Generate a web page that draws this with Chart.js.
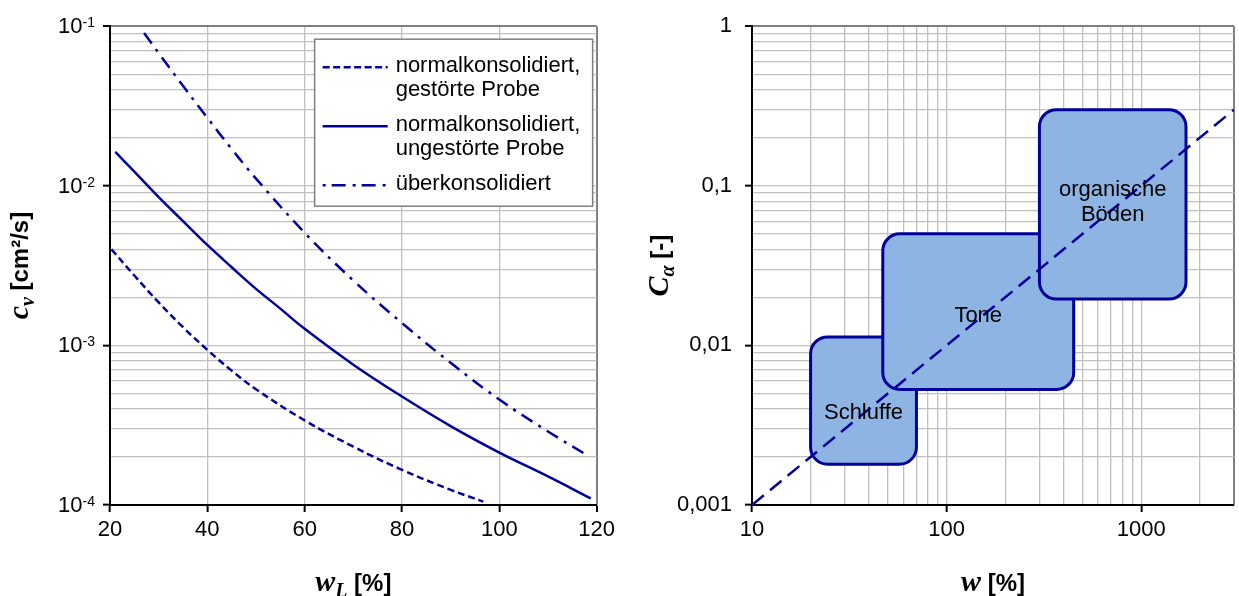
<!DOCTYPE html>
<html>
<head>
<meta charset="utf-8">
<script src="https://cdn.jsdelivr.net/npm/chart.js@4"></script>
<style>
  html, body { margin: 0; padding: 0; background: #fff; }
  body { width: 1239px; height: 596px; overflow: hidden; position: relative; }
  #cvChart { position: absolute; left: 0; top: 0; }
  #caChart { position: absolute; left: 620px; top: 0; }
</style>
</head>
<body>
<canvas id="cvChart" width="620" height="596"></canvas>
<canvas id="caChart" width="619" height="596"></canvas>
<script>
// left chart: c_v over liquid limit w_L
const wlGestoert = [20.3, 25, 30, 35, 40, 45, 50, 60, 70, 80, 90, 96.7];
const cvGestoert = [4.0e-3, 2.74e-3, 1.86e-3, 1.30e-3, 9.38e-4, 6.95e-4, 5.31e-4, 3.39e-4, 2.32e-4, 1.66e-4, 1.245e-4, 1.05e-4];
const wlUngestoert = [21.1, 25, 30, 35, 40, 45, 50, 55, 60, 70, 80, 90, 100, 110, 118.8];
const cvUngestoert = [1.63e-2, 1.225e-2, 8.49e-3, 6.01e-3, 4.26e-3, 3.09e-3, 2.26e-3, 1.70e-3, 1.27e-3, 7.57e-4, 4.78e-4, 3.12e-4, 2.13e-4, 1.51e-4, 1.1e-4];
const wlUeber = [27, 30, 35, 40, 45, 50, 60, 70, 80, 90, 100, 110, 117.7];
const cvUeber = [9.06e-2, 6.78e-2, 4.23e-2, 2.67e-2, 1.70e-2, 1.11e-2, 5.08e-3, 2.55e-3, 1.38e-3, 7.78e-4, 4.58e-4, 2.89e-4, 2.08e-4];
const seriesLabels = ['normalkonsolidiert,\ngestörte Probe', 'normalkonsolidiert,\nungestörte Probe', 'überkonsolidiert'];
const wlTicks = [20, 40, 60, 80, 100, 120];
const cvMajor = [1e-4, 1e-3, 1e-2, 1e-1];
const cvExponents = ['-4', '-3', '-2', '-1'];

// right chart: C_alpha over water content w
const wMajor = [10, 100, 1000];
const wTickLabels = ['10', '100', '1000'];
const caMajor = [0.001, 0.01, 0.1, 1];
const caTickLabels = ['0,001', '0,01', '0,1', '1'];
const soilNames = ['Schluffe', 'Tone', 'organische\nBöden'];
const soilWMin = [20, 47, 300];
const soilWMax = [70, 450, 1700];
const soilCMin = [0.0018, 0.0053, 0.0195];
const soilCMax = [0.0113, 0.05, 0.3];
const trendW = [10, 3000];
const trendC = [0.001, 0.3];

const BLUE = '#00009C';
const BOX_FILL = '#8EB4E3';
const GRID = '#C0C0C0';
const FRAME = '#808080';
const SANS = '"Liberation Sans", Arial, sans-serif';
const SERIF = '"Liberation Serif", "Times New Roman", serif';

Chart.defaults.font.family = SANS;
Chart.defaults.color = '#000';

function near(a, b) { return Math.abs(Math.log10(a) - Math.log10(b)) < 1e-6; }

// 1..9 x 10^n grid positions between min and max
function logGrid(min, max) {
  const out = [];
  for (let e = Math.floor(Math.log10(min)); Math.pow(10, e) <= max * 1.000001; e++) {
    for (let k = 1; k <= 9; k++) {
      const v = Number((k * Math.pow(10, e)).toPrecision(6));
      if (v >= min * 0.999999 && v <= max * 1.000001) out.push(v);
    }
  }
  return out;
}

function points(xs, ys) { return xs.map((x, i) => ({ x: x, y: ys[i] })); }

function axis(type, min, max, gridValues, majorValues, labels, padding, fit) {
  const isMajor = v => majorValues.some(m => near(v, m));
  return {
    type: type, min: min, max: max,
    afterBuildTicks: a => { a.ticks = gridValues.map(v => ({ value: v })); },
    afterFit: fit,
    ticks: {
      autoSkip: false, maxRotation: 0, padding: padding,
      font: { size: 22 },
      callback: v => {
        const i = majorValues.findIndex(m => near(v, m));
        return i < 0 ? '' : labels[i];
      }
    },
    grid: {
      color: c => !c.tick ? GRID : near(c.tick.value, max) ? FRAME : near(c.tick.value, min) ? 'rgba(0,0,0,0)' : GRID,
      lineWidth: c => c.tick && near(c.tick.value, max) ? 2 : 1.3,
      tickLength: 7,
      tickWidth: 2,
      tickColor: c => c.tick && isMajor(c.tick.value) ? '#000' : 'rgba(0,0,0,0)'
    },
    border: { color: '#000', width: 2 }
  };
}

// text made of runs with their own fonts (italic symbols, subscripts)
function drawRuns(ctx, runs, cx, base, rotated) {
  ctx.save();
  ctx.fillStyle = '#000';
  ctx.textBaseline = 'alphabetic';
  ctx.textAlign = 'left';
  let total = 0;
  runs.forEach(r => { ctx.font = r.font; r.w = ctx.measureText(r.text).width; total += r.w; });
  if (rotated) {
    ctx.translate(base, cx);
    ctx.rotate(-Math.PI / 2);
  } else {
    ctx.translate(cx, base);
  }
  let x = -total / 2;
  runs.forEach(r => {
    ctx.font = r.font;
    ctx.fillText(r.text, x, r.dy || 0);
    x += r.w;
  });
  ctx.restore();
}

function roundRect(ctx, x, y, w, h, r) {
  ctx.beginPath();
  ctx.moveTo(x + r, y);
  ctx.arcTo(x + w, y, x + w, y + h, r);
  ctx.arcTo(x + w, y + h, x, y + h, r);
  ctx.arcTo(x, y + h, x, y, r);
  ctx.arcTo(x, y, x + w, y, r);
  ctx.closePath();
}

const cvDecor = {
  id: 'cvDecor',
  afterDraw(chart) {
    const ctx = chart.ctx;
    const a = chart.chartArea;
    const ys = chart.scales.y;

    // y tick labels as powers of ten
    ctx.save();
    ctx.fillStyle = '#000';
    const right = ys.right - 15;
    cvMajor.forEach((v, i) => {
      const py = ys.getPixelForValue(v);
      ctx.font = '14px ' + SANS;
      const ew = ctx.measureText(cvExponents[i]).width;
      ctx.textAlign = 'left';
      ctx.fillText(cvExponents[i], right - ew, py + 1);
      ctx.font = '22px ' + SANS;
      ctx.textAlign = 'right';
      ctx.fillText('10', right - ew, py + 7);
    });
    ctx.restore();

    // legend box
    const box = { left: a.right - 282, top: a.top + 13, width: 278, height: 167 };
    const rows = [27, 86, 145];
    ctx.save();
    ctx.fillStyle = '#fff';
    ctx.fillRect(box.left, box.top, box.width, box.height);
    ctx.strokeStyle = FRAME;
    ctx.lineWidth = 1.5;
    ctx.strokeRect(box.left, box.top, box.width, box.height);
    chart.data.datasets.forEach((ds, i) => {
      const y0 = box.top + rows[i];
      ctx.strokeStyle = ds.borderColor;
      ctx.lineWidth = 2.5;
      ctx.setLineDash(ds.legendDash || []);
      ctx.beginPath();
      ctx.moveTo(box.left + 8, y0 + 1);
      ctx.lineTo(box.left + 73, y0 + 1);
      ctx.stroke();
      ctx.setLineDash([]);
      ctx.fillStyle = '#000';
      ctx.font = '22px ' + SANS;
      ctx.textAlign = 'left';
      ctx.textBaseline = 'middle';
      ds.label.split('\n').forEach((line, k) => ctx.fillText(line, box.left + 81, y0 + k * 24));
    });
    ctx.restore();

    // axis titles
    drawRuns(ctx, [
      { text: 'c', font: 'bold italic 30px ' + SERIF },
      { text: 'v', font: 'bold italic 20px ' + SERIF, dy: 6 },
      { text: ' [cm²/s]', font: 'bold 24px ' + SANS }
    ], (a.top + a.bottom) / 2, 28, true);
    drawRuns(ctx, [
      { text: 'w', font: 'bold italic 30px ' + SERIF },
      { text: 'L', font: 'bold italic 20px ' + SERIF, dy: 6 },
      { text: ' [%]', font: 'bold 24px ' + SANS }
    ], (a.left + a.right) / 2, 591, false);
  }
};

const soilDecor = {
  id: 'soilDecor',
  beforeDatasetsDraw(chart) {
    const ctx = chart.ctx;
    const xs = chart.scales.x, ys = chart.scales.y;
    ctx.save();
    soilNames.forEach((n, i) => {
      const l = xs.getPixelForValue(soilWMin[i]);
      const r = xs.getPixelForValue(soilWMax[i]);
      const t = ys.getPixelForValue(soilCMax[i]);
      const b = ys.getPixelForValue(soilCMin[i]);
      roundRect(ctx, l, t, r - l, b - t, 17);
      ctx.fillStyle = BOX_FILL;
      ctx.fill();
      ctx.strokeStyle = BLUE;
      ctx.lineWidth = 3;
      ctx.stroke();
    });
    ctx.restore();
  },
  afterDatasetsDraw(chart) {
    const ctx = chart.ctx;
    const xs = chart.scales.x, ys = chart.scales.y;
    const dy = [12, 4, -2];
    ctx.save();
    ctx.fillStyle = '#000';
    ctx.font = '22px ' + SANS;
    ctx.textAlign = 'center';
    ctx.textBaseline = 'middle';
    soilNames.forEach((n, i) => {
      const cx = (xs.getPixelForValue(soilWMin[i]) + xs.getPixelForValue(soilWMax[i])) / 2;
      const cy = (ys.getPixelForValue(soilCMin[i]) + ys.getPixelForValue(soilCMax[i])) / 2 + dy[i];
      const lines = n.split('\n');
      lines.forEach((line, k) => ctx.fillText(line, cx, cy + (k - (lines.length - 1) / 2) * 25));
    });
    ctx.restore();
    const a = chart.chartArea;
    drawRuns(ctx, [
      { text: 'C', font: 'bold italic 30px ' + SERIF },
      { text: 'α', font: 'bold italic 20px ' + SERIF, dy: 6 },
      { text: ' [-]', font: 'bold 24px ' + SANS }
    ], (a.top + a.bottom) / 2, 48, true);
    drawRuns(ctx, [
      { text: 'w', font: 'bold italic 30px ' + SERIF },
      { text: ' [%]', font: 'bold 24px ' + SANS }
    ], (a.left + a.right) / 2, 591, false);
  }
};

const lineDefaults = { borderColor: BLUE, borderWidth: 2.5, pointRadius: 0, tension: 0.4, fill: false };

new Chart(document.getElementById('cvChart'), {
  type: 'line',
  data: {
    datasets: [
      Object.assign({ label: seriesLabels[0], data: points(wlGestoert, cvGestoert), borderDash: [7, 4], legendDash: [7, 3.5] }, lineDefaults),
      Object.assign({ label: seriesLabels[1], data: points(wlUngestoert, cvUngestoert) }, lineDefaults),
      Object.assign({ label: seriesLabels[2], data: points(wlUeber, cvUeber), borderDash: [13, 7, 3, 7], legendDash: [3, 6, 14, 7] }, lineDefaults)
    ]
  },
  options: {
    responsive: false,
    animation: false,
    devicePixelRatio: 1,
    layout: { padding: { left: 0, right: 23, top: 19, bottom: 0 } },
    plugins: { legend: { display: false }, tooltip: { enabled: false } },
    scales: {
      x: axis('linear', 20, 120, wlTicks, wlTicks, wlTicks.map(String), 5, s => { s.height = 91; }),
      y: axis('logarithmic', 1e-4, 1e-1, logGrid(1e-4, 1e-1), cvMajor, cvMajor.map(() => ''), 13, s => { s.width = 110; })
    }
  },
  plugins: [cvDecor]
});

new Chart(document.getElementById('caChart'), {
  type: 'line',
  data: {
    datasets: [
      Object.assign({ label: 'Trend', data: points(trendW, trendC), borderDash: [15, 8] }, lineDefaults)
    ]
  },
  options: {
    responsive: false,
    animation: false,
    devicePixelRatio: 1,
    layout: { padding: { left: 0, right: 1, top: 19, bottom: 0 } },
    plugins: { legend: { display: false }, tooltip: { enabled: false } },
    scales: {
      x: axis('logarithmic', 10, 3000, logGrid(10, 3000), wMajor, wTickLabels, 5, s => { s.height = 91; }),
      y: axis('logarithmic', 0.001, 1, logGrid(0.001, 1), caMajor, caTickLabels, 13, s => { s.width = 132; })
    }
  },
  plugins: [soilDecor]
});
</script>
</body>
</html>
